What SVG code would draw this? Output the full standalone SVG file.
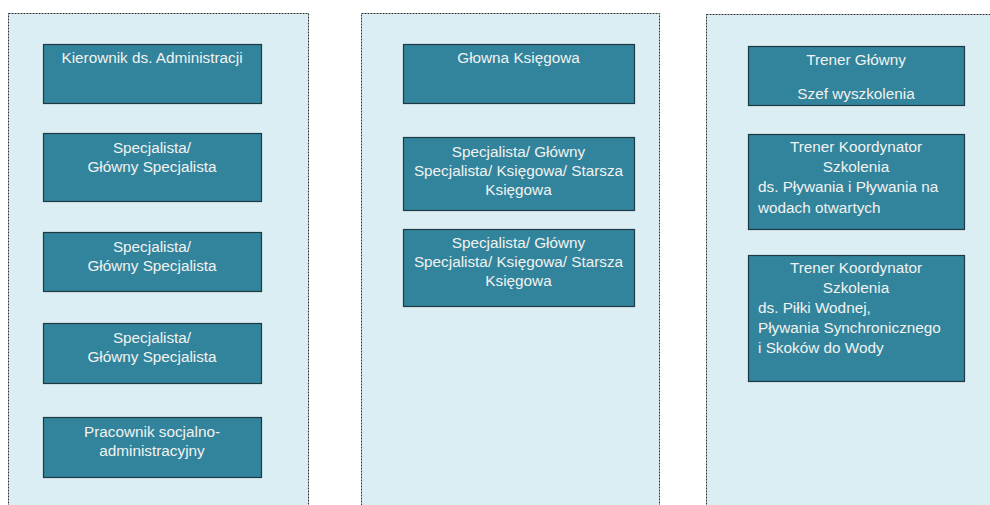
<svg xmlns="http://www.w3.org/2000/svg" width="990" height="505" viewBox="0 0 990 505">
<style>
.panel{fill:#daeef3;stroke:#333;stroke-width:1;stroke-dasharray:2,1}
.box{fill:#31849b;stroke:#1f3a44;stroke-width:1.2}
.t{font-family:"Liberation Sans",Arial,sans-serif;font-size:15.3px;fill:#f2f2f2}
.c{text-anchor:middle}
</style>
<g id="panels">
<rect class="panel" x="8.5" y="13.5" width="300" height="500"/>
<rect class="panel" x="361.5" y="13.5" width="298" height="500"/>
<rect class="panel" x="706.5" y="14.5" width="300" height="500"/>
</g>
<g id="connectors"></g>
<g id="n1">
<rect class="box" x="43.5" y="44.5" width="218" height="59"/>
<text class="t c" x="152" y="63">Kierownik ds. Administracji</text>
</g>
<g id="n2">
<rect class="box" x="43.5" y="133.5" width="218" height="68"/>
<text class="t c" x="152" y="153">Specjalista/</text>
<text class="t c" x="152" y="172">Główny Specjalista</text>
</g>
<g id="n3">
<rect class="box" x="43.5" y="232.5" width="218" height="59"/>
<text class="t c" x="152" y="252">Specjalista/</text>
<text class="t c" x="152" y="271">Główny Specjalista</text>
</g>
<g id="n4">
<rect class="box" x="43.5" y="323.5" width="218" height="60"/>
<text class="t c" x="152" y="343">Specjalista/</text>
<text class="t c" x="152" y="362">Główny Specjalista</text>
</g>
<g id="n5">
<rect class="box" x="43.5" y="417.5" width="218" height="60"/>
<text class="t c" x="152" y="437">Pracownik socjalno-</text>
<text class="t c" x="152" y="456">administracyjny</text>
</g>
<g id="n6">
<rect class="box" x="403.5" y="44.5" width="231" height="59"/>
<text class="t c" x="518.5" y="63">Głowna Księgowa</text>
</g>
<g id="n7">
<rect class="box" x="403.5" y="137.5" width="231" height="73"/>
<text class="t c" x="518.5" y="157">Specjalista/ Główny</text>
<text class="t c" x="518.5" y="176">Specjalista/ Księgowa/ Starsza</text>
<text class="t c" x="518.5" y="195">Księgowa</text>
</g>
<g id="n8">
<rect class="box" x="403.5" y="229.5" width="231" height="77"/>
<text class="t c" x="518.5" y="248">Specjalista/ Główny</text>
<text class="t c" x="518.5" y="267">Specjalista/ Księgowa/ Starsza</text>
<text class="t c" x="518.5" y="286">Księgowa</text>
</g>
<g id="n9">
<rect class="box" x="748.5" y="46.5" width="216" height="59"/>
<text class="t c" x="856" y="65">Trener Główny</text>
<text class="t c" x="856" y="99">Szef wyszkolenia</text>
</g>
<g id="n10">
<rect class="box" x="748.5" y="134.5" width="216" height="95"/>
<text class="t c" x="856" y="152">Trener Koordynator</text>
<text class="t c" x="856" y="172">Szkolenia</text>
<text class="t" x="758" y="192">ds. Pływania i Pływania na</text>
<text class="t" x="758" y="213">wodach otwartych</text>
</g>
<g id="n11">
<rect class="box" x="748.5" y="255.5" width="216" height="126"/>
<text class="t c" x="856" y="273">Trener Koordynator</text>
<text class="t c" x="856" y="293">Szkolenia</text>
<text class="t" x="758" y="313">ds. Piłki Wodnej,</text>
<text class="t" x="758" y="333">Pływania Synchronicznego</text>
<text class="t" x="758" y="353">i Skoków do Wody</text>
</g>
</svg>
